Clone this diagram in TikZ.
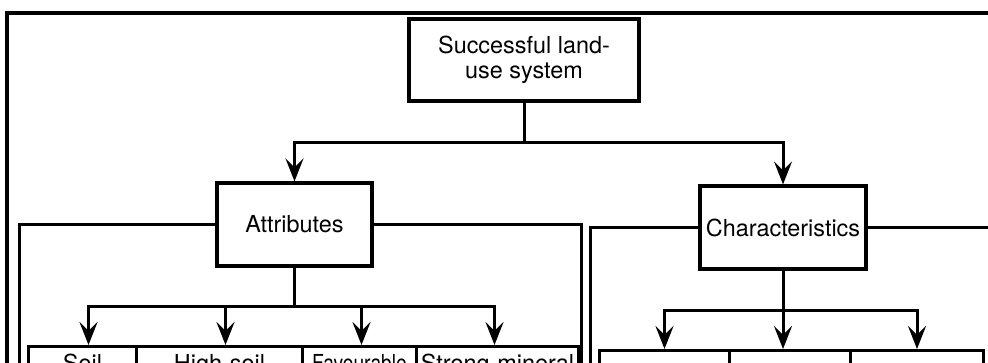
\documentclass[tikz,border=0pt]{standalone}
\usepackage{fontspec}
\setmainfont{TeX Gyre Heros}
\usetikzlibrary{arrows.meta}
\begin{document}
\begin{tikzpicture}[x=0.5pt,y=-0.5pt,
  line width=1.5pt,
  every node/.style={font=\fontsize{11.7pt}{12.8pt}\selectfont},
  box/.style={draw,line width=1.6pt,align=center,inner sep=0pt},
  leaf/.style={draw,line width=1.5pt,anchor=north west,align=center,inner xsep=0pt,inner ysep=4pt,text height=8.4pt,text depth=25pt},
  arr/.style={-{Stealth[length=11.5pt,width=9pt,inset=4.5pt]}}]
\useasboundingbox (0,0) rectangle (988,363);
\clip (0,0) rectangle (988,363);
% frame
\coordinate (fbl) at (7,420);
\coordinate (ftr) at (1000,13);
\draw[line width=1.7pt] (fbl) |- (ftr);
% main boxes
\node[box,minimum width=115pt,minimum height=41pt] (top) at (524,60) {Successful\ land-\\use system};
\node[box,minimum width=77.5pt,minimum height=41.5pt] (attr) at (294.5,224.5) {Attributes};
\node[box,minimum width=83pt,minimum height=41.5pt] (char) at (783,227.5) {Characteristics};
% top connectors
\coordinate (j1) at (524,143);
\draw (top.south) -- (j1);
\draw[arr] (j1) -| (attr.north);
\draw[arr] (j1) -| (char.north);
% brackets
\coordinate (al) at (19,420);
\coordinate (ar) at (581,420);
\coordinate (cl) at (590,420);
\coordinate (cr) at (1000,227.5);
\draw (attr.west) -| (al);
\draw (attr.east) -| (ar);
\draw (char.west) -| (cl);
\draw (char.east) -- (cr);
% attribute leaves
\node[leaf,text width=54pt] (b1) at (27,345) {Soil};
\node[leaf,text width=83pt] (b2) at (135,345) {High soil};
\node[leaf,text width=57pt] (b3) at (301,345) {\scalebox{0.82}[1]{Favourable}};
\node[leaf,text width=81pt] (b4) at (415,345) {Strong mineral};
\coordinate (j2) at (294.5,306);
\draw (attr.south) -- (j2);
\draw[arr] (j2) -| ([xshift=3pt]b1.north);
\draw[arr] (j2) -| ([xshift=3pt]b2.north);
\draw[arr] (j2) -| ([xshift=1pt]b3.north);
\draw[arr] (j2) -| ([xshift=-1.5pt]b4.north);
% characteristic leaves
\node[leaf,text width=65pt] (c1) at (598,349) {};
\node[leaf,text width=60.5pt] (c2) at (728,349) {};
\node[leaf,text width=66.5pt] (c3) at (849,349) {};
\coordinate (j3) at (783,310);
\draw (char.south) -- (j3);
\draw[arr] (j3) -| (c1.north);
\draw[arr] (j3) -- (j3 |- c2.north);
\draw[arr] (j3) -| (c3.north);
\end{tikzpicture}
\end{document}
